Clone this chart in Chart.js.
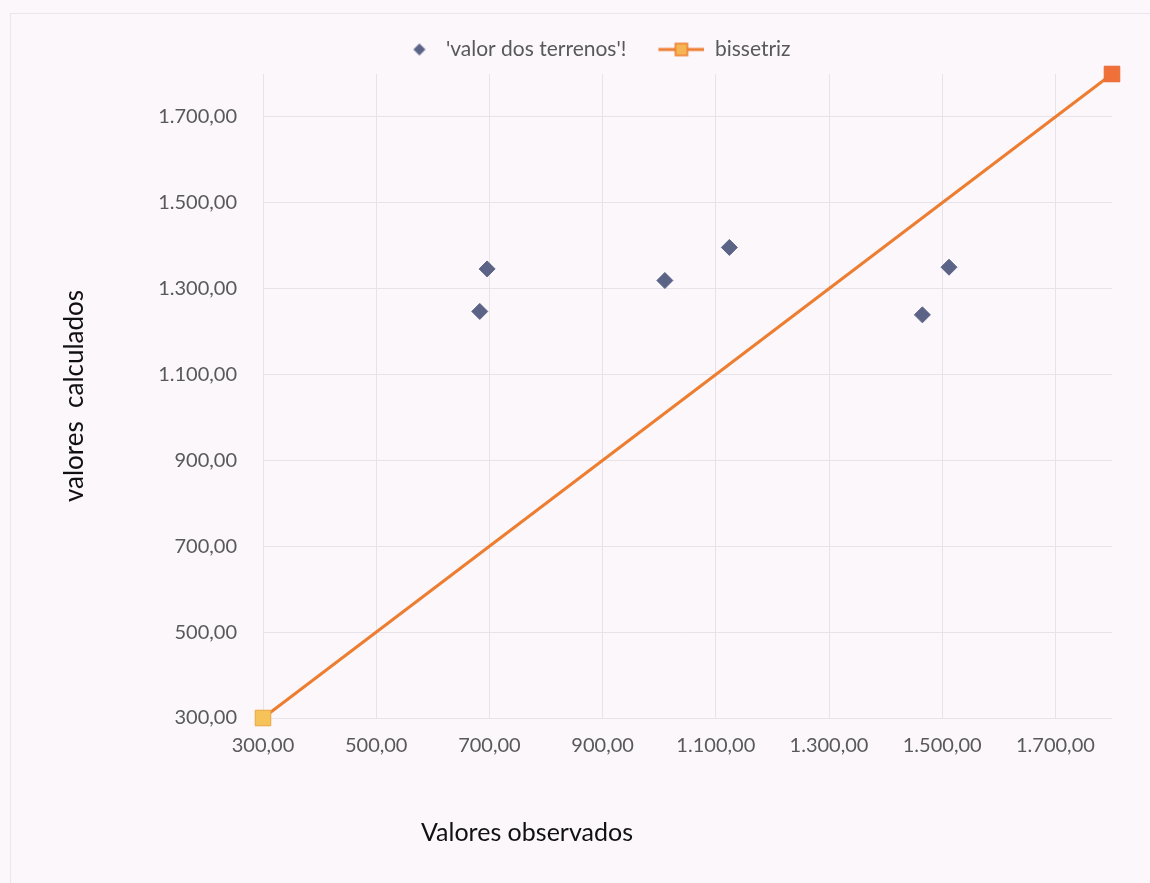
<!DOCTYPE html>
<html lang="pt">
<head>
    <meta charset="UTF-8">
    <title>Valores observados x calculados</title>
    <style>
        body {
            margin: 0;
            padding: 0;
            background-color: #fbf7fb;
        }
        #wrap {
            position: relative;
            width: 1150px;
            height: 883px;
        }
        #frame {
            position: absolute;
            left: 10px;
            top: 13px;
            width: 1150px;
            height: 880px;
            border-top: 1px solid #ebe6eb;
            border-left: 1px solid #ebe6eb;
            pointer-events: none;
        }
    </style>
    <script src="https://cdn.jsdelivr.net/npm/chart.js"></script>
</head>
<body>
    <div id="wrap">
        <div id="frame"></div>
        <canvas id="chart" width="1150" height="883"></canvas>
    </div>

    <script>
        // dados
        const obsValues = [683, 696, 1010, 1124, 1465, 1512];
        const calcValues = [1247, 1346, 1319, 1396, 1239, 1350];
        const bisX = [300, 1800];
        const bisY = [300, 1800];
        const tickValues = [300, 500, 700, 900, 1100, 1300, 1500, 1700];
        const seriesNames = ["'valor dos terrenos'!", 'bissetriz'];

        const FONT = 'Lato, "Open Sans", sans-serif';
        const diamondColor = '#5b6387';
        const lineColor = '#ed7d31';

        function fmt(v) {
            const parts = Math.round(v).toString().replace(/\B(?=(\d{3})+(?!\d))/g, '.');
            return parts + ',00';
        }

        // ícones da legenda
        function makeDiamondIcon() {
            const c = document.createElement('canvas');
            c.width = 60; c.height = 20;
            const ctx = c.getContext('2d');
            ctx.fillStyle = diamondColor;
            ctx.beginPath();
            ctx.moveTo(44, 4); ctx.lineTo(50, 10); ctx.lineTo(44, 16); ctx.lineTo(38, 10);
            ctx.closePath();
            ctx.fill();
            return c;
        }

        function makeLineIcon() {
            const c = document.createElement('canvas');
            c.width = 60; c.height = 20;
            const ctx = c.getContext('2d');
            ctx.strokeStyle = lineColor;
            ctx.lineWidth = 3;
            ctx.beginPath();
            ctx.moveTo(14, 10); ctx.lineTo(60, 10);
            ctx.stroke();
            ctx.fillStyle = '#f5b552';
            ctx.lineWidth = 1.5;
            ctx.fillRect(31, 4, 12, 12);
            ctx.strokeRect(31, 4, 12, 12);
            return c;
        }

        const icons = [makeDiamondIcon(), makeLineIcon()];

        // espaço extra abaixo da legenda
        const legendGap = {
            id: 'legendGap',
            beforeInit(chart) {
                const fit = chart.legend.fit;
                chart.legend.fit = function () {
                    fit.bind(chart.legend)();
                    this.height += 4;
                };
            }
        };

        const xTitlePlugin = {
            id: 'xTitle',
            afterDraw(chart) {
                const ctx = chart.ctx;
                ctx.save();
                ctx.font = '25px ' + FONT;
                ctx.fillStyle = '#111';
                ctx.textAlign = 'center';
                ctx.textBaseline = 'middle';
                ctx.fillText('Valores observados', 527, 833);
                ctx.restore();
            }
        };

        const chart = new Chart(document.getElementById('chart'), {
            type: 'scatter',
            data: {
                datasets: [{
                    label: seriesNames[0],
                    data: obsValues.map((x, i) => ({ x: x, y: calcValues[i] })),
                    pointStyle: 'rectRot',
                    pointRadius: 8,
                    pointHoverRadius: 8,
                    backgroundColor: diamondColor,
                    borderColor: diamondColor,
                    borderWidth: 1
                }, {
                    label: seriesNames[1],
                    data: bisX.map((x, i) => ({ x: x, y: bisY[i] })),
                    showLine: true,
                    clip: false,
                    borderColor: lineColor,
                    borderWidth: 3,
                    pointStyle: 'rect',
                    pointRadius: 11,
                    pointHoverRadius: 11,
                    pointBackgroundColor: ['#f5c35a', '#f0703a'],
                    pointBorderColor: ['#e8a640', '#e86a30'],
                    pointBorderWidth: 1
                }]
            },
            options: {
                responsive: false,
                animation: false,
                layout: { padding: { top: 21, right: 38, bottom: 0, left: 54 } },
                plugins: {
                    tooltip: { enabled: false },
                    legend: {
                        position: 'top',
                        labels: {
                            usePointStyle: true,
                            pointStyleWidth: 60,
                            padding: 18,
                            color: '#595959',
                            font: { family: FONT, size: 21 },
                            generateLabels: (chart) => seriesNames.map((name, i) => ({
                                text: name,
                                pointStyle: icons[i],
                                datasetIndex: i,
                                fontColor: '#595959',
                                lineWidth: 0,
                                hidden: false
                            }))
                        }
                    }
                },
                scales: {
                    x: {
                        type: 'linear',
                        min: 300,
                        max: 1800,
                        afterBuildTicks: (scale) => {
                            scale.ticks = tickValues.map(v => ({ value: v }));
                        },
                        afterFit: (scale) => { scale.height = 165; },
                        grid: { color: '#e8e3e8', drawTicks: false },
                        border: { display: false },
                        ticks: {
                            padding: 16,
                            color: '#595959',
                            font: { family: FONT, size: 20 },
                            maxRotation: 0,
                            callback: (v) => fmt(v)
                        }
                    },
                    y: {
                        type: 'linear',
                        min: 300,
                        max: 1800,
                        afterBuildTicks: (scale) => {
                            scale.ticks = tickValues.map(v => ({ value: v }));
                        },
                        afterFit: (scale) => { scale.width = 209; },
                        grid: { color: '#e8e3e8', drawTicks: false },
                        border: { display: false },
                        title: {
                            display: true,
                            text: 'valores  calculados',
                            color: '#111',
                            font: { family: FONT, size: 26 },
                            padding: { top: 5, bottom: 0 }
                        },
                        ticks: {
                            padding: 26,
                            color: '#595959',
                            font: { family: FONT, size: 20 },
                            callback: (v) => fmt(v)
                        }
                    }
                }
            },
            plugins: [legendGap, xTitlePlugin]
        });
    </script>
</body>
</html>
